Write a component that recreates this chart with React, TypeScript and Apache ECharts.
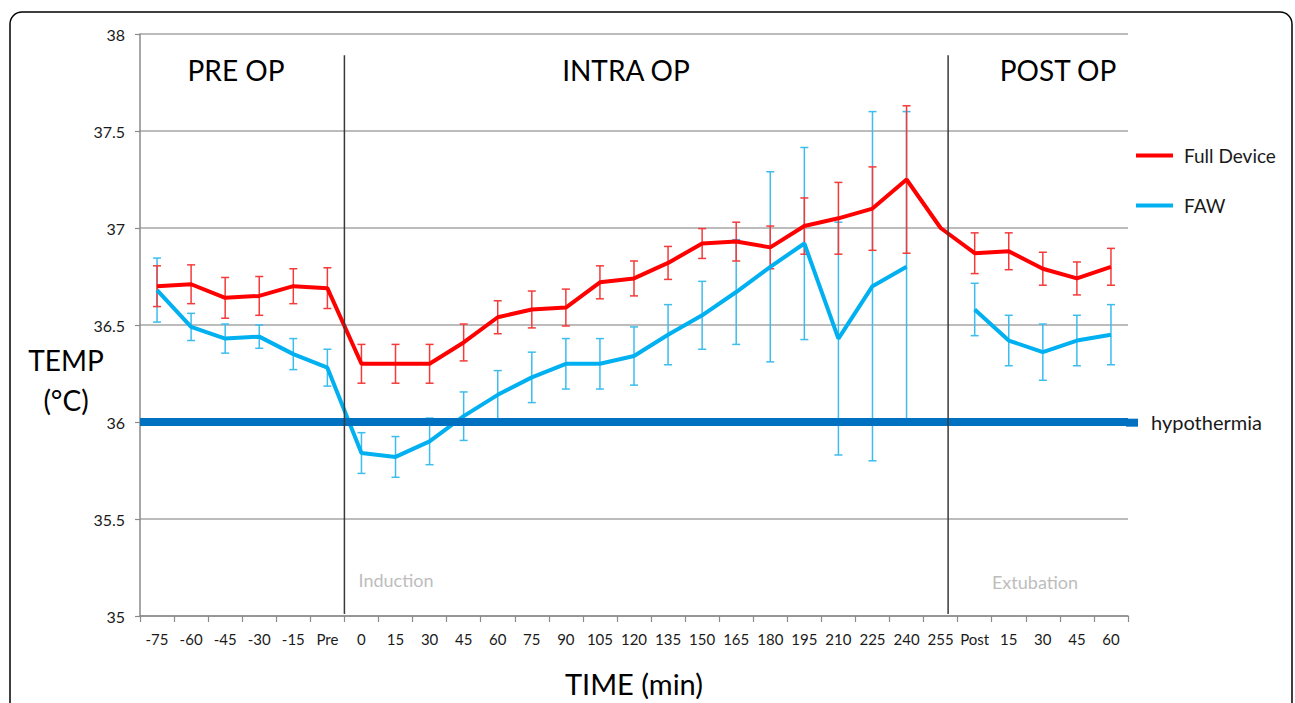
import React, { useEffect, useRef } from "react";
import * as echarts from "echarts";

const categories = [
  "-75", "-60", "-45", "-30", "-15", "Pre",
  "0", "15", "30", "45", "60", "75", "90", "105", "120", "135", "150", "165",
  "180", "195", "210", "225", "240", "255",
  "Post", "15", "30", "45", "60",
];

const fullDevice = [
  36.70, 36.71, 36.64, 36.65, 36.70, 36.69,
  36.30, 36.30, 36.30, 36.41, 36.54, 36.58, 36.59, 36.72, 36.74, 36.82, 36.92, 36.93,
  36.90, 37.01, 37.05, 37.10, 37.25, 37.00,
  36.87, 36.88, 36.79, 36.74, 36.80,
];
const fullDeviceErr = [
  0.105, 0.10, 0.105, 0.10, 0.09, 0.105,
  0.10, 0.10, 0.10, 0.095, 0.085, 0.095, 0.095, 0.085, 0.09, 0.085, 0.077, 0.10,
  0.11, 0.145, 0.185, 0.215, 0.38, null,
  0.105, 0.095, 0.085, 0.085, 0.095,
];

const faw = [
  36.68, 36.49, 36.43, 36.44, 36.35, 36.28,
  35.84, 35.82, 35.90, 36.03, 36.14, 36.23, 36.30, 36.30, 36.34, 36.45, 36.55, 36.67,
  36.80, 36.92, 36.43, 36.70, 36.80, null,
  36.58, 36.42, 36.36, 36.42, 36.45,
];
const fawErr = [
  0.165, 0.07, 0.075, 0.06, 0.08, 0.095,
  0.105, 0.105, 0.12, 0.125, 0.125, 0.13, 0.13, 0.13, 0.15, 0.155, 0.175, 0.27,
  0.49, 0.495, 0.60, 0.90, 0.80, null,
  0.135, 0.13, 0.145, 0.13, 0.155,
];

const hypothermiaTemp = 36;
const yTicks = { min: 35, max: 38, interval: 0.5 };
// phase dividers, in category-slot units (0 = left edge of first slot)
const phaseDividers = [6, 23.72];
const dividerSpan = [35.01, 37.89];
const phaseTitles = [
  { text: "PRE OP", x: 236 },
  { text: "INTRA OP", x: 626 },
  { text: "POST OP", x: 1058 },
];
const eventLabels = [
  { text: "Induction", x: 396, y: 580 },
  { text: "Extubation", x: 1035, y: 582 },
];

const FONT = "Lato, 'Open Sans', sans-serif";
const RED = "#FF0000";
const RED_ERR = "#F53A3A";
const BLUE = "#00B0F0";
const BLUE_ERR = "#3CBDEE";
const HYPO = "#0070C0";

function errData(vals: (number | null)[], errs: (number | null)[]) {
  const out: number[][] = [];
  vals.forEach((v, i) => {
    const e = errs[i];
    if (v == null || e == null) return;
    out.push([i, v - e, v + e]);
  });
  return out;
}

function errRenderer(color: string) {
  return (params: any, api: any) => {
    const i = api.value(0);
    const lo = api.coord([i, api.value(1)]);
    const hi = api.coord([i, api.value(2)]);
    const hw = 4;
    const style = { stroke: color, lineWidth: 1.5 };
    return {
      type: "group",
      children: [
        { type: "line", shape: { x1: lo[0], y1: lo[1], x2: hi[0], y2: hi[1] }, style },
        { type: "line", shape: { x1: lo[0] - hw, y1: lo[1], x2: lo[0] + hw, y2: lo[1] }, style },
        { type: "line", shape: { x1: hi[0] - hw, y1: hi[1], x2: hi[0] + hw, y2: hi[1] }, style },
      ],
    };
  };
}

export default function App() {
  const ref = useRef<HTMLDivElement>(null);
  useEffect(() => {
    if (!ref.current) return;
    const chart = echarts.init(ref.current, undefined, { renderer: "svg" });
    const option: any = {
      animation: false,
      backgroundColor: "#fff",
      grid: { left: 140, right: 167, top: 34, bottom: 86, containLabel: false },
      legend: {
        data: ["Full Device", "FAW"],
        orient: "vertical",
        left: 1131,
        top: 141,
        icon: "rect",
        itemWidth: 37,
        itemHeight: 4,
        itemGap: 31,
        selectedMode: false,
        textStyle: { fontSize: 19, color: "#1a1a1a", fontFamily: FONT, padding: [0, 0, 0, 6] },
      },
      xAxis: [
        {
          type: "category",
          data: categories,
          boundaryGap: true,
          axisLine: { show: true, lineStyle: { color: "#8a8a8a", width: 1.5 } },
          axisTick: { show: true, interval: 0, length: 6, lineStyle: { color: "#8a8a8a", width: 1.2 } },
          axisLabel: { interval: 0, fontSize: 15, color: "#1a1a1a", fontFamily: FONT, margin: 15 },
          splitLine: { show: false },
          name: "TIME (min)",
          nameLocation: "middle",
          nameGap: 53,
          nameTextStyle: { fontSize: 29, color: "#000", fontFamily: FONT },
        },
        {
          type: "value",
          show: false,
          min: 0,
          max: categories.length,
        },
      ],
      yAxis: {
        type: "value",
        min: yTicks.min,
        max: yTicks.max,
        interval: yTicks.interval,
        axisLine: { show: true, lineStyle: { color: "#8a8a8a", width: 1.5 } },
        axisTick: { show: true, length: 5, lineStyle: { color: "#8a8a8a", width: 1.2 } },
        axisLabel: { fontSize: 16, color: "#1a1a1a", fontFamily: FONT, margin: 15 },
        splitLine: { show: true, lineStyle: { color: "#a6a6a6", width: 1.5 } },
      },
      series: [
        {
          name: "FAW err",
          type: "custom",
          xAxisIndex: 0,
          renderItem: errRenderer(BLUE_ERR),
          data: errData(faw, fawErr),
          encode: { x: 0, y: [1, 2] },
          z: 2,
          silent: true,
        },
        {
          name: "Full Device err",
          type: "custom",
          xAxisIndex: 0,
          renderItem: errRenderer(RED_ERR),
          data: errData(fullDevice, fullDeviceErr),
          encode: { x: 0, y: [1, 2] },
          z: 3,
          silent: true,
        },
        {
          name: "FAW",
          type: "line",
          data: faw,
          symbol: "none",
          connectNulls: false,
          lineStyle: { color: BLUE, width: 4 },
          itemStyle: { color: BLUE },
          z: 4,
          silent: true,
        },
        {
          name: "Full Device",
          type: "line",
          data: fullDevice,
          symbol: "none",
          lineStyle: { color: RED, width: 4 },
          itemStyle: { color: RED },
          z: 5,
          silent: true,
        },
        {
          name: "dividers",
          type: "custom",
          xAxisIndex: 1,
          data: phaseDividers.map((x) => [x, dividerSpan[1], dividerSpan[0]]),
          encode: { x: 0, y: [1, 2] },
          renderItem: (params: any, api: any) => {
            const x = api.value(0);
            const a = api.coord([x, api.value(1)]);
            const b = api.coord([x, api.value(2)]);
            return {
              type: "line",
              shape: { x1: a[0], y1: a[1], x2: b[0], y2: b[1] },
              style: { stroke: "#3a3a3a", lineWidth: 1.5 },
            };
          },
          z: 6,
          silent: true,
        },
        {
          name: "hypothermia",
          type: "line",
          data: [],
          z: 10,
          silent: true,
          markLine: {
            silent: true,
            symbol: ["none", "none"],
            lineStyle: { color: HYPO, width: 8, type: "solid" },
            label: {
              show: true,
              position: "end",
              distance: 23,
              formatter: "hypothermia",
              fontSize: 20,
              color: "#1a1a1a",
              fontFamily: FONT,
            },
            emphasis: { disabled: true },
            data: [{ yAxis: hypothermiaTemp }],
          },
        },
      ],
      graphic: [
        {
          type: "rect",
          shape: { x: 10, y: 12, width: 1282, height: 730, r: 12 },
          style: { fill: "none", stroke: "#000", lineWidth: 1.5 },
          silent: true,
          z: 0,
        },
        {
          type: "rect",
          shape: { x: 1126, y: 418.67, width: 12, height: 8 },
          style: { fill: HYPO },
          silent: true,
          z: 10,
        },
        ...phaseTitles.map((t) => ({
          type: "text",
          x: t.x,
          y: 70,
          style: {
            text: t.text,
            fontSize: 28,
            fontFamily: FONT,
            fill: "#000",
            textAlign: "center",
            textVerticalAlign: "middle",
          },
          silent: true,
        })),
        ...eventLabels.map((t) => ({
          type: "text",
          x: t.x,
          y: t.y,
          style: {
            text: t.text,
            fontSize: 18,
            fontFamily: FONT,
            fill: "#bdbdbd",
            textAlign: "center",
            textVerticalAlign: "middle",
          },
          silent: true,
        })),
        {
          type: "text",
          x: 66,
          y: 380,
          style: {
            text: "TEMP\n(°C)",
            fontSize: 28,
            lineHeight: 40,
            fontFamily: FONT,
            fill: "#000",
            textAlign: "center",
            textVerticalAlign: "middle",
          },
          silent: true,
        },
      ],
    };
    chart.setOption(option);
    return () => chart.dispose();
  }, []);
  return (
    <div
      ref={ref}
      style={{ position: "fixed", left: 0, top: 0, width: 1295, height: 703, background: "#fff" }}
    />
  );
}
